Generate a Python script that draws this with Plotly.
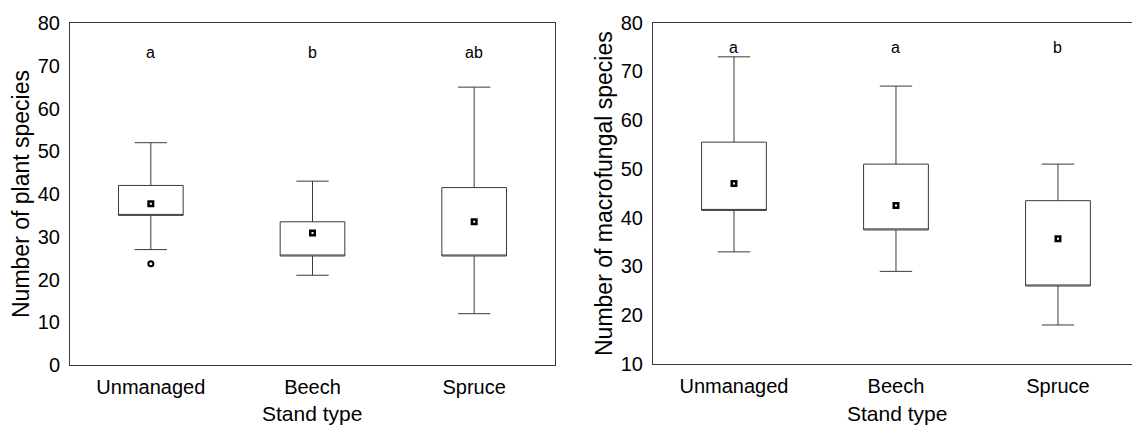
import plotly.graph_objects as go

categories = ["Unmanaged", "Beech", "Spruce"]

# Left panel: number of plant species
plant_q1 = [35, 25.5, 25.5]
plant_q3 = [42, 33.5, 41.5]
plant_low = [27, 21, 12]
plant_high = [52, 43, 65]
plant_center = [37.7, 30.9, 33.5]
plant_outlier_cat = ["Unmanaged"]
plant_outlier_val = [23.7]
plant_letters = ["a", "b", "ab"]

# Right panel: number of macrofungal species
fungi_q1 = [41.5, 37.5, 26]
fungi_q3 = [55.5, 51, 43.5]
fungi_low = [33, 29, 18]
fungi_high = [73, 67, 51]
fungi_center = [47, 42.5, 35.7]
fungi_letters = ["a", "a", "b"]

FONT = "Liberation Sans, Arial, sans-serif"
LINE = "#3a3a3a"

fig = go.Figure()

def add_boxes(q1, q3, low, high, xa, ya):
    fig.add_trace(go.Box(
        x=categories, q1=q1, median=q1, q3=q3,
        lowerfence=low, upperfence=high,
        width=0.4, whiskerwidth=0.5,
        line=dict(color=LINE, width=1), fillcolor="white",
        boxpoints=False, showlegend=False, hoverinfo="skip",
        xaxis=xa, yaxis=ya))

def add_centers(vals, xa, ya):
    fig.add_trace(go.Scatter(
        x=categories, y=vals, mode="markers",
        marker=dict(symbol="square", size=4.5, color="white",
                    line=dict(color="black", width=2.5)),
        showlegend=False, hoverinfo="skip", xaxis=xa, yaxis=ya))

add_boxes(plant_q1, plant_q3, plant_low, plant_high, "x", "y")
add_centers(plant_center, "x", "y")
fig.add_trace(go.Scatter(
    x=plant_outlier_cat, y=plant_outlier_val, mode="markers",
    marker=dict(symbol="circle", size=5, color="white",
                line=dict(color="black", width=2)),
    showlegend=False, hoverinfo="skip", xaxis="x", yaxis="y"))

add_boxes(fungi_q1, fungi_q3, fungi_low, fungi_high, "x2", "y2")
add_centers(fungi_center, "x2", "y2")

annotations = []
for c, t in zip(categories, plant_letters):
    annotations.append(dict(x=c, y=73, xref="x", yref="y", text=t,
                            showarrow=False, font=dict(size=16, color="black", family=FONT)))
for c, t in zip(categories, fungi_letters):
    annotations.append(dict(x=c, y=75, xref="x2", yref="y2", text=t,
                            showarrow=False, font=dict(size=16, color="black", family=FONT)))

annotations += [
    dict(x=21 / 1132, y=1 - 194 / 426, xref="paper", yref="paper",
         text="Number of plant species", textangle=-90, showarrow=False,
         font=dict(size=23, color="black", family=FONT), yanchor="middle", xanchor="center"),
    dict(x=604 / 1132, y=1 - 194 / 426, xref="paper", yref="paper",
         text="Number of macrofungal species", textangle=-90, showarrow=False,
         font=dict(size=23, color="black", family=FONT), yanchor="middle", xanchor="center"),
    dict(x=312 / 1132, y=1 - 413 / 426, xref="paper", yref="paper",
         text="Stand type", showarrow=False,
         font=dict(size=21, color="black", family=FONT), yanchor="middle", xanchor="center"),
    dict(x=897 / 1132, y=1 - 413 / 426, xref="paper", yref="paper",
         text="Stand type", showarrow=False,
         font=dict(size=21, color="black", family=FONT), yanchor="middle", xanchor="center"),
]

axis_common = dict(showgrid=False, zeroline=False, ticks="", automargin=False,
                   tickfont=dict(size=20, color="black", family=FONT),
                   linecolor=LINE, linewidth=1, showline=True)

fig.update_layout(
    width=1132, height=426,
    margin=dict(l=0, r=0, t=0, b=0, pad=0, autoexpand=False),
    paper_bgcolor="white", plot_bgcolor="white",
    font=dict(family=FONT, color="black"),
    showlegend=False,
    xaxis=dict(domain=[70 / 1132, 555 / 1132], type="category",
               categoryorder="array", categoryarray=categories,
               range=[-0.5, 2.5], mirror=True, anchor="y",
               ticklabelstandoff=4, **axis_common),
    yaxis=dict(domain=[1 - 365 / 426, 1 - 23 / 426], range=[0, 80], dtick=10,
               mirror=True, anchor="x", ticklabelstandoff=5, **axis_common),
    xaxis2=dict(domain=[653 / 1132, 1.0], type="category",
                categoryorder="array", categoryarray=categories,
                range=[-0.5, 2.457], mirror=True, anchor="y2",
                ticklabelstandoff=4, **axis_common),
    yaxis2=dict(domain=[1 - 364 / 426, 1 - 22.7 / 426], range=[10, 80], dtick=10,
                mirror=False, anchor="x2", ticklabelstandoff=5, **axis_common),
    annotations=annotations,
)

fig.write_html(
    "out.html",
    config={"displayModeBar": False},
    post_script="document.body.style.margin='0';document.body.style.overflow='hidden';",
)
